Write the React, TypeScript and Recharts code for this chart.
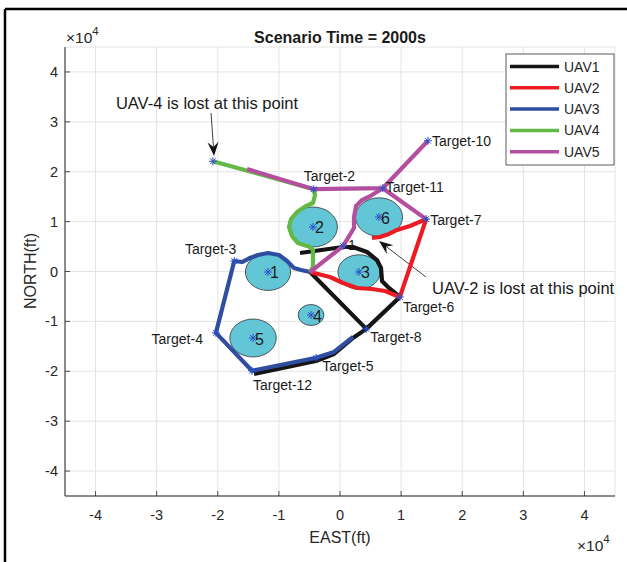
import React from "react";
import {
  ScatterChart,
  Scatter,
  XAxis,
  YAxis,
  CartesianGrid,
  ReferenceLine,
  ReferenceDot,
} from "recharts";

// ---- data (feet) ----------------------------------------------------

const uavNames = ["UAV1", "UAV2", "UAV3", "UAV4", "UAV5"];

// each UAV route is a list of polylines [east, north]
const uav1Paths: number[][][] = [
  [
    [-6540, 3710], [490, 4910], [2130, 4910], [4420, 3910], [6050, 2300],
    [6710, 700], [6870, -1900], [7850, -3110], [9800, -5100],
    [4300, -11500], [-4900, -100],
  ],
  [[4300, -11500], [2130, -13330], [-980, -16530], [-3930, -17940], [-14070, -20540]],
];

const uav2Paths: number[][][] = [
  [
    [-4900, -100], [-1640, -1100], [490, -2300], [2780, -3310], [5240, -3510],
    [7360, -3910], [9800, -5100], [14100, 10500], [11450, 9120], [9330, 8320],
    [8020, 7520], [6540, 6910], [5240, 6710],
  ],
];

const uav3Paths: number[][][] = [
  [
    [2130, -13130], [-980, -16130], [-3900, -17300], [-14400, -19900],
    [-20300, -12300], [-17300, 2100], [-16030, 1900], [-14720, 2710],
    [-13420, 3310], [-11780, 3710], [-9980, 3310], [-8670, 2100],
    [-7530, 700], [-6380, 300], [-4900, -100],
  ],
];

const uav4Paths: number[][][] = [
  [
    [-20800, 22100], [-4300, 16500], [-4090, 15330], [-4420, 13730],
    [-5560, 13130], [-7030, 11920], [-8020, 10520], [-8340, 8920],
    [-7850, 7110], [-6870, 5710], [-4910, 4910], [-4420, 4310],
    [-4420, 900], [-4900, -100],
  ],
];

const uav5Paths: number[][][] = [
  [[-15210, 20540], [-4300, 16500], [7000, 16700], [14400, 26200]],
  [[7000, 16700], [14100, 10500]],
  [
    [7000, 16700], [5240, 15330], [3600, 14330], [2620, 13130], [2290, 10920],
    [2290, 8720], [500, 5100], [-4900, -100],
  ],
];

const targets = [
  { name: "Target-2", x: -4300, y: 16500 },
  { name: "Target-3", x: -17300, y: 2100 },
  { name: "Target-4", x: -20300, y: -12300 },
  { name: "Target-5", x: -3900, y: -17300 },
  { name: "Target-6", x: 9800, y: -5100 },
  { name: "Target-7", x: 14100, y: 10500 },
  { name: "Target-8", x: 4300, y: -11500 },
  { name: "Target-10", x: 14400, y: 26200 },
  { name: "Target-11", x: 7000, y: 16700 },
  { name: "Target-12", x: -14400, y: -19900 },
  { name: "1", x: 500, y: 5100 },
  { name: "", x: -20800, y: 22100 },
];

// no-fly zones: centre and radius
const obstacleIds = ["1", "2", "3", "4", "5", "6"];
const obstacleX = [-11780, -4420, 3110, -4740, -14230, 6380];
const obstacleY = [-100, 8920, -100, -8720, -13330, 10920];
const obstacleR = [3700, 4000, 3450, 2100, 3800, 3850];

const notes = [
  { text: "UAV-4 is lost at this point", x: -21760, y: 33770, from: [-21100, 31760], to: [-20610, 23150] },
  { text: "UAV-2 is lost at this point", x: 15050, y: -3310, from: [14070, -1100], to: [6380, 6110] },
];

const axisTicks = [-40000, -30000, -20000, -10000, 0, 10000, 20000, 30000, 40000];

// ---- styling -------------------------------------------------------

const FONT = "Arial, 'Liberation Sans', Helvetica, sans-serif";
const INK = "#262626";
const uavColors = ["#151515", "#ec1c24", "#2f4ea2", "#63b946", "#b44fa0"];
const STAR = "#2d4fc8";

const W = 627;
const H = 562;
const MARGIN = { top: 47, right: 12, bottom: 36, left: 25 };
const Y_AXIS_W = 40;
const X_AXIS_H = 30;
const PLOT_W = W - MARGIN.left - MARGIN.right - Y_AXIS_W;
const PLOT_H = H - MARGIN.top - MARGIN.bottom - X_AXIS_H;
const LIM = 45000;
const PX_PER_FT_X = PLOT_W / (2 * LIM);
const PX_PER_FT_Y = PLOT_H / (2 * LIM);
const TICK_LEN = 5;
const X_GAP = 19;
const Y_GAP = 7;

// where each target name sits relative to its star
const labelPlacement: Record<string, { dx: number; dy: number; anchor: string }> = {
  "Target-2": { dx: -10, dy: -13, anchor: "start" },
  "Target-3": { dx: 2, dy: -12, anchor: "end" },
  "Target-4": { dx: -13, dy: 6, anchor: "end" },
  "Target-5": { dx: 6, dy: 8, anchor: "start" },
  "Target-6": { dx: 3, dy: 10, anchor: "start" },
  "Target-7": { dx: 4, dy: 1, anchor: "start" },
  "Target-8": { dx: 4, dy: 8, anchor: "start" },
  "Target-10": { dx: 4, dy: 0, anchor: "start" },
  "Target-11": { dx: 3, dy: -1, anchor: "start" },
  "Target-12": { dx: 1, dy: 14, anchor: "start" },
  "1": { dx: 5, dy: -1, anchor: "start" },
};

const tickLabel = (v: number) => String(v / 10000);

const toPoints = (line: number[][]) => line.map(([x, y]) => ({ x, y }));

const obstacles = obstacleIds.map((id, i) => ({
  id,
  x: obstacleX[i],
  y: obstacleY[i],
  r: obstacleR[i],
}));

// ---- shapes ----------------------------------------------------------

const NoDot = () => <g />;

function Asterisk({ cx, cy }: { cx: number; cy: number }) {
  const a = 4;
  const d = 2.9;
  return (
    <g stroke={STAR} strokeWidth={1}>
      <line x1={cx - a} x2={cx + a} y1={cy} y2={cy} />
      <line x1={cx} x2={cx} y1={cy - a} y2={cy + a} />
      <line x1={cx - d} x2={cx + d} y1={cy - d} y2={cy + d} />
      <line x1={cx - d} x2={cx + d} y1={cy + d} y2={cy - d} />
    </g>
  );
}

function ZoneShape(props: any) {
  const { cx, cy, payload } = props;
  return (
    <ellipse
      cx={cx}
      cy={cy}
      rx={payload.r * PX_PER_FT_X}
      ry={payload.r * PX_PER_FT_Y}
      fill="#63c6d7"
      stroke="#333"
      strokeWidth={0.8}
    />
  );
}

function ZoneCentre(props: any) {
  const { cx, cy, payload } = props;
  return (
    <g>
      <Asterisk cx={cx} cy={cy} />
      <text
        x={cx + 2}
        y={cy + 1}
        dominantBaseline="central"
        fontSize={16}
        fontFamily={FONT}
        fill="#1a1a1a"
      >
        {payload.id}
      </text>
    </g>
  );
}

function TargetShape(props: any) {
  const { cx, cy, payload } = props;
  const p = labelPlacement[payload.name];
  return (
    <g>
      <Asterisk cx={cx} cy={cy} />
      {p && (
        <text
          x={cx + p.dx}
          y={cy + p.dy}
          textAnchor={p.anchor as any}
          dominantBaseline="central"
          fontSize={14}
          fontFamily={FONT}
          fill="#1a1a1a"
        >
          {payload.name}
        </text>
      )}
    </g>
  );
}

function Arrow(props: any) {
  const { x1, y1, x2, y2 } = props;
  const ang = Math.atan2(y2 - y1, x2 - x1);
  const ux = Math.cos(ang);
  const uy = Math.sin(ang);
  const nx = -uy;
  const ny = ux;
  const len = 14;
  const half = 5.5;
  const notch = 9;
  const bx = x2 - ux * len;
  const by = y2 - uy * len;
  const mx = x2 - ux * notch;
  const my = y2 - uy * notch;
  return (
    <g>
      <line x1={x1} y1={y1} x2={mx} y2={my} stroke="#111" strokeWidth={0.8} />
      <path
        d={`M${x2},${y2} L${bx + nx * half},${by + ny * half} L${mx},${my} L${bx - nx * half},${by - ny * half} Z`}
        fill="#111"
      />
    </g>
  );
}

function NoteText(props: any) {
  const { cx, cy, text, anchor } = props;
  return (
    <text
      x={cx}
      y={cy}
      textAnchor={anchor}
      dominantBaseline="central"
      fontSize={16.5}
      fontFamily={FONT}
      fill="#1a1a1a"
    >
      {text}
    </text>
  );
}

// ---- axis ticks drawn inside the box ---------------------------------

function BottomTick({ x, y, payload }: any) {
  const axisY = y - X_GAP;
  return (
    <g>
      <line x1={x} x2={x} y1={axisY} y2={axisY - TICK_LEN} stroke={INK} strokeWidth={0.8} />
      <text x={x} y={y} textAnchor="middle" dominantBaseline="central" fontSize={14.5} fontFamily={FONT} fill={INK}>
        {tickLabel(payload.value)}
      </text>
    </g>
  );
}

function LeftTick({ x, y, payload }: any) {
  const axisX = x + Y_GAP;
  return (
    <g>
      <line x1={axisX} x2={axisX + TICK_LEN} y1={y} y2={y} stroke={INK} strokeWidth={0.8} />
      <text x={x} y={y} textAnchor="end" dominantBaseline="central" fontSize={14.5} fontFamily={FONT} fill={INK}>
        {tickLabel(payload.value)}
      </text>
    </g>
  );
}

function TopTick({ x, y }: any) {
  return <line x1={x} x2={x} y1={y} y2={y + TICK_LEN} stroke={INK} strokeWidth={0.8} />;
}

function RightTick({ x, y }: any) {
  return <line x1={x - TICK_LEN} x2={x} y1={y} y2={y} stroke={INK} strokeWidth={0.8} />;
}

// ---- chart -------------------------------------------------------------

const routes = [uav1Paths, uav2Paths, uav3Paths, uav4Paths, uav5Paths];

export default function App() {
  const legendTop = 54;
  const rowStep = 21.3;

  return (
    <div style={{ position: "absolute", left: 0, top: 0, width: W, height: H, background: "#fff" }}>
      <ScatterChart width={W} height={H} margin={MARGIN}>
        <CartesianGrid stroke="#e4e4e4" strokeWidth={1} />
        <XAxis
          type="number"
          dataKey="x"
          domain={[-LIM, LIM]}
          ticks={axisTicks}
          interval={0}
          allowDataOverflow
          height={X_AXIS_H}
          tickSize={0}
          tickMargin={X_GAP}
          tick={<BottomTick />}
          axisLine={{ stroke: INK, strokeWidth: 1 }}
          tickLine={false}
        />
        <XAxis
          xAxisId="top"
          orientation="top"
          type="number"
          dataKey="x"
          domain={[-LIM, LIM]}
          ticks={axisTicks}
          interval={0}
          allowDataOverflow
          height={0}
          tickSize={0}
          tickMargin={0}
          tick={<TopTick />}
          axisLine={{ stroke: INK, strokeWidth: 1 }}
          tickLine={false}
        />
        <YAxis
          type="number"
          dataKey="y"
          domain={[-LIM, LIM]}
          ticks={axisTicks}
          interval={0}
          allowDataOverflow
          width={Y_AXIS_W}
          tickSize={0}
          tickMargin={Y_GAP}
          tick={<LeftTick />}
          axisLine={{ stroke: INK, strokeWidth: 1 }}
          tickLine={false}
        />
        <YAxis
          yAxisId="right"
          orientation="right"
          type="number"
          dataKey="y"
          domain={[-LIM, LIM]}
          ticks={axisTicks}
          interval={0}
          allowDataOverflow
          width={0}
          tickSize={0}
          tickMargin={0}
          tick={<RightTick />}
          axisLine={{ stroke: INK, strokeWidth: 1 }}
          tickLine={false}
        />

        <Scatter data={obstacles} shape={ZoneShape} isAnimationActive={false} />

        {routes.map((paths, u) =>
          paths.map((line, k) => (
            <Scatter
              key={`${uavNames[u]}-${k}`}
              name={uavNames[u]}
              data={toPoints(line)}
              fill={uavColors[u]}
              line={{
                stroke: uavColors[u],
                strokeWidth: 4.2,
                strokeLinejoin: "round",
                strokeLinecap: "butt",
                fill: "none",
              }}
              lineType="joint"
              shape={NoDot}
              isAnimationActive={false}
            />
          ))
        )}

        <Scatter data={obstacles} shape={ZoneCentre} isAnimationActive={false} />
        <Scatter data={targets} shape={TargetShape} isAnimationActive={false} />

        {notes.map((n) => (
          <ReferenceLine
            key={`arrow-${n.text}`}
            segment={[
              { x: n.from[0], y: n.from[1] },
              { x: n.to[0], y: n.to[1] },
            ]}
            shape={Arrow}
          />
        ))}
        {notes.map((n, i) => (
          <ReferenceDot
            key={`note-${n.text}`}
            x={n.x}
            y={n.y}
            r={0}
            shape={(p: any) => (
              <NoteText {...p} text={n.text} anchor={i === 0 ? "middle" : "start"} />
            )}
          />
        ))}
      </ScatterChart>

      <svg
        width={W}
        height={H}
        style={{ position: "absolute", left: 0, top: 0, pointerEvents: "none" }}
        fontFamily={FONT}
      >
        <line x1={5} y1={9} x2={W} y2={9} stroke="#000" strokeWidth={2.5} />
        <line x1={5} y1={9} x2={5} y2={H} stroke="#000" strokeWidth={2.5} />

        <text x={340} y={37} textAnchor="middle" dominantBaseline="central" fontSize={16} fontWeight="bold" fill="#1a1a1a">
          Scenario Time = 2000s
        </text>
        <text x={66} y={43} fontSize={15.5} fill={INK}>
          ×10<tspan dy={-8} fontSize={11.5}>4</tspan>
        </text>
        <text x={577} y={551} fontSize={15.5} fill={INK}>
          ×10<tspan dy={-8} fontSize={11.5}>4</tspan>
        </text>
        <text x={340} y={537} textAnchor="middle" dominantBaseline="central" fontSize={16} fill={INK}>
          EAST(ft)
        </text>
        <text
          x={30}
          y={271}
          textAnchor="middle"
          dominantBaseline="central"
          fontSize={16}
          fill={INK}
          transform="rotate(-90 30 271)"
        >
          NORTH(ft)
        </text>

        <rect x={506} y={legendTop} width={108} height={111} fill="#fff" stroke="#333" strokeWidth={0.8} />
        {uavNames.map((name, i) => {
          const ry = legendTop + 12.5 + i * rowStep;
          return (
            <g key={name}>
              <line x1={510} x2={559} y1={ry} y2={ry} stroke={uavColors[i]} strokeWidth={3.5} />
              <text x={564} y={ry} dominantBaseline="central" fontSize={14} fill={INK}>
                {name}
              </text>
            </g>
          );
        })}
      </svg>
    </div>
  );
}
